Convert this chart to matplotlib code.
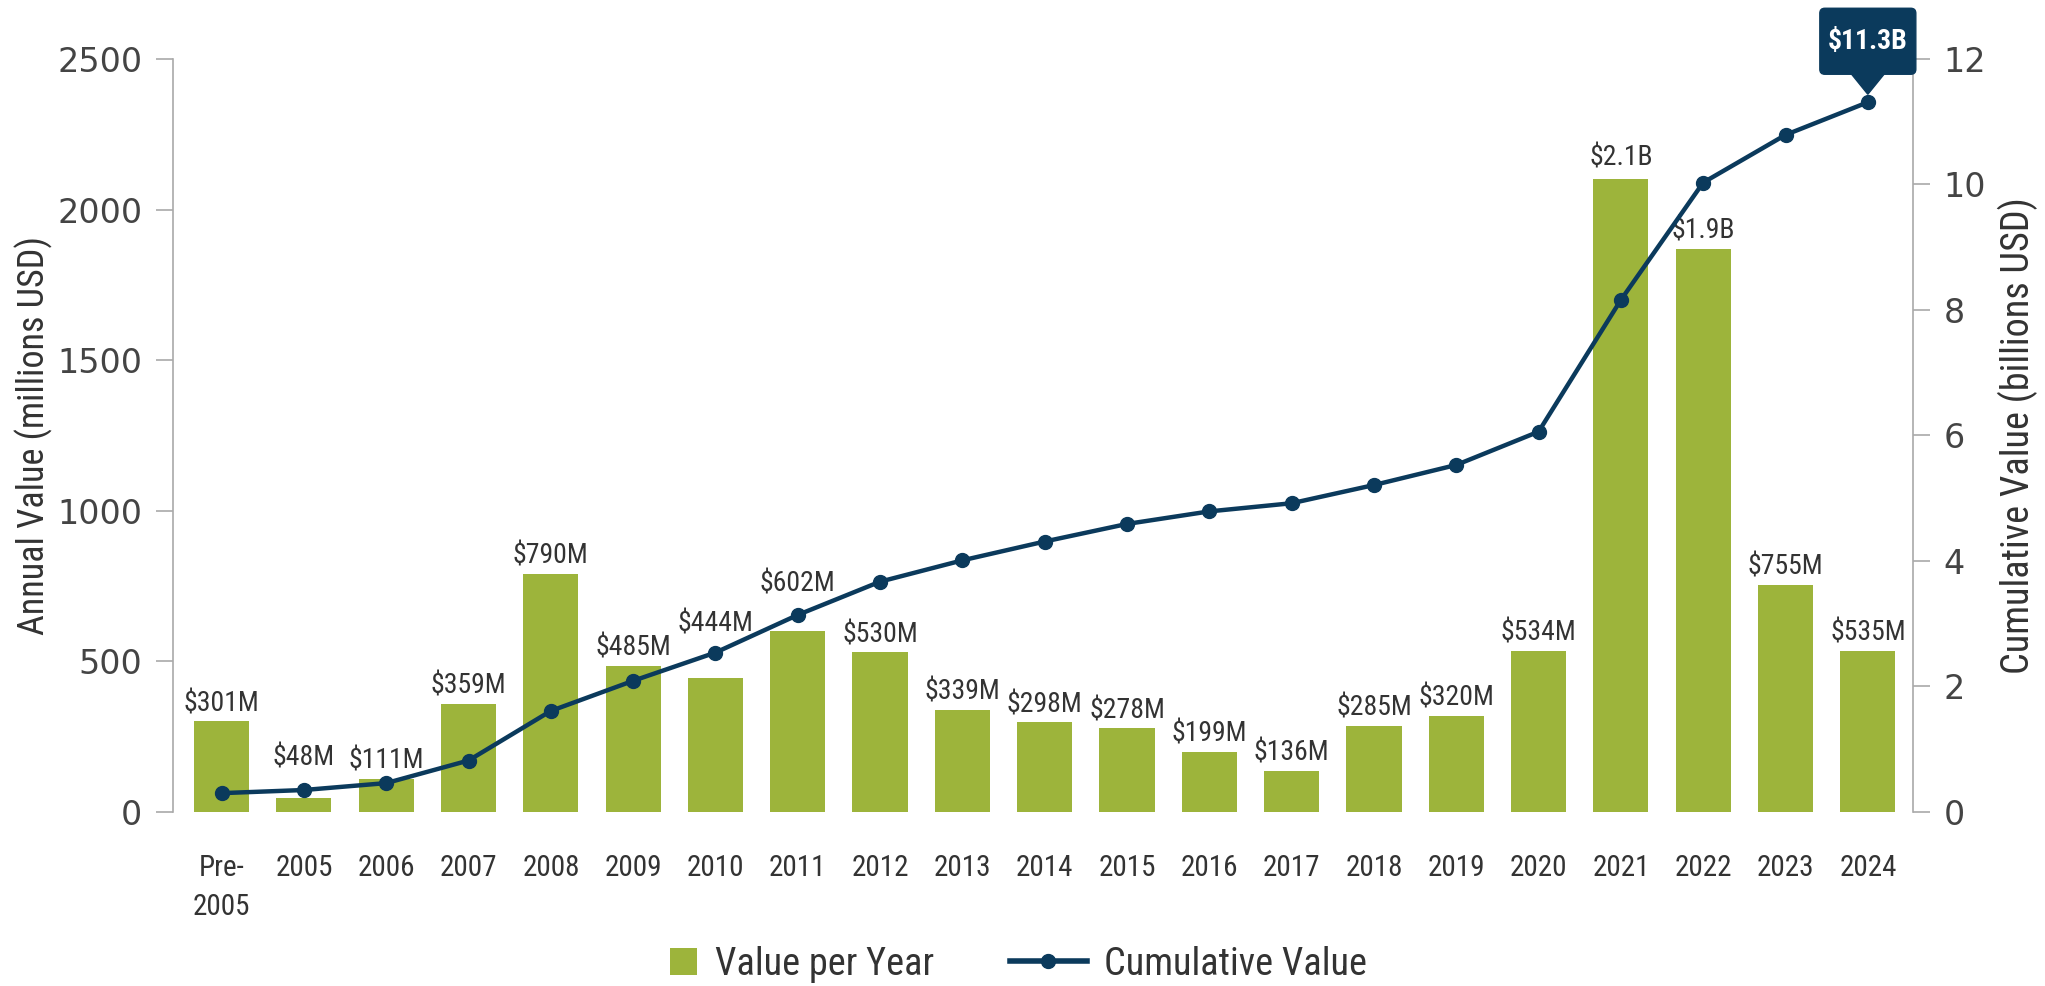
"""Annual and cumulative value chart, bars plus cumulative line on twin axis."""

import matplotlib

matplotlib.use("Agg")
import matplotlib.pyplot as plt
from matplotlib import font_manager
from matplotlib.legend_handler import HandlerPatch
from matplotlib.lines import Line2D
from matplotlib.patches import FancyBboxPatch, Patch, Polygon, Rectangle
from matplotlib.transforms import IdentityTransform

# ---- data -------------------------------------------------------------
years = ["Pre-\n2005", "2005", "2006", "2007", "2008", "2009", "2010", "2011",
         "2012", "2013", "2014", "2015", "2016", "2017", "2018", "2019",
         "2020", "2021", "2022", "2023", "2024"]
annual_musd = [301, 48, 111, 359, 790, 485, 444, 602, 530, 339, 298, 278,
               199, 136, 285, 320, 534, 2100, 1870, 755, 535]
annual_labels = ["$301M", "$48M", "$111M", "$359M", "$790M", "$485M", "$444M",
                 "$602M", "$530M", "$339M", "$298M", "$278M", "$199M",
                 "$136M", "$285M", "$320M", "$534M", "$2.1B", "$1.9B",
                 "$755M", "$535M"]
cumulative_busd = [0.30, 0.35, 0.46, 0.82, 1.61, 2.09, 2.54, 3.14, 3.67,
                   4.01, 4.31, 4.59, 4.79, 4.92, 5.21, 5.53, 6.06, 8.16,
                   10.03, 10.79, 11.31]
total_label = "$11.3B"

# ---- style ------------------------------------------------------------
GREEN = "#9db43b"
NAVY = "#0b3a5c"
TEXT = "#333333"
SPINE = "#a9a9a9"


def _pick_narrow():
    """Find a condensed face if one is installed."""
    names = {f.name: f for f in font_manager.fontManager.ttflist}
    for cand in ("Roboto Condensed", "Liberation Sans Narrow",
                 "Open Sans Condensed", "Noto Sans Condensed"):
        if cand in names:
            return dict(family=cand)
    for f in font_manager.fontManager.ttflist:
        if f.name == "DejaVu Sans" and str(f.stretch) in ("condensed", "semi-condensed"):
            return dict(family="DejaVu Sans", stretch="condensed")
    return dict(family="Roboto")


def _square_handle(legend, orig_handle, xdescent, ydescent, width, height, fontsize):
    """Square legend swatch pinned to the right of the handle box."""
    side = height
    return Rectangle((-xdescent + width - side, -ydescent), side, side)


NARROW = _pick_narrow()
WIDE = dict(family="DejaVu Sans")

# extra lift (points) for labels that would collide with the line
label_lift = {1: 16, 6: 26, 7: 21, 17: 3}

fig = plt.figure(figsize=(20.45, 9.86), dpi=100)
ax = fig.add_axes([0.0846, 0.1765, 0.8509, 0.7637])
ax2 = ax.twinx()

x = list(range(len(years)))
ax.bar(x, annual_musd, width=0.67, color=GREEN, zorder=2)

for i, (val, lab) in enumerate(zip(annual_musd, annual_labels)):
    ax.annotate(lab, (i, val), xytext=(0, 3 + label_lift.get(i, 0)),
                textcoords="offset points", ha="center", va="bottom",
                fontsize=20, color=TEXT, **NARROW)

ax2.plot(x, cumulative_busd, color=NAVY, lw=3.2, marker="o", ms=10,
         zorder=3, solid_capstyle="round")

ax.set_xlim(-0.59, 20.55)
ax.set_ylim(0, 2500)
ax2.set_ylim(0, 12)
ax.set_yticks([0, 500, 1000, 1500, 2000, 2500])
ax2.set_yticks([0, 2, 4, 6, 8, 10, 12])
ax.set_xticks(x)
ax.set_xticklabels(years, fontsize=21, color=TEXT, linespacing=1.5,
                   **NARROW)
ax.tick_params(axis="x", length=0, pad=30)
for a in (ax, ax2):
    a.tick_params(axis="y", length=12, width=1.2, color=SPINE,
                  labelsize=24, labelcolor="#444444", pad=10)
    for t in a.get_yticklabels():
        t.set_family(WIDE["family"])
    for side in ("top", "bottom", "left", "right"):
        a.spines[side].set_visible(False)
ax.spines["left"].set_visible(True)
ax.spines["left"].set_color(SPINE)
ax.spines["left"].set_linewidth(1.2)
ax2.spines["right"].set_visible(True)
ax2.spines["right"].set_color(SPINE)
ax2.spines["right"].set_linewidth(1.2)

ax.set_ylabel("Annual Value (millions USD)", fontsize=26, color=TEXT,
              labelpad=3, **NARROW)
ax2.set_ylabel("Cumulative Value (billions USD)", fontsize=27.5, color=TEXT,
               labelpad=8, **NARROW)

# callout over the final cumulative point
px, py = ax2.transData.transform((x[-1], cumulative_busd[-1]))
tip_y = py + 8
base_y = py + 28
box_w, box_h = 96, 66
tri = Polygon([(px - 17, base_y + 1), (px + 17, base_y + 1), (px, tip_y)],
              closed=True, transform=IdentityTransform(), color=NAVY,
              clip_on=False, zorder=5)
box = FancyBboxPatch((px - box_w / 2, base_y), box_w, box_h,
                     boxstyle="round,pad=0,rounding_size=5",
                     transform=IdentityTransform(), color=NAVY,
                     clip_on=False, zorder=5)
fig.patches.extend([tri, box])
fig.text(px / fig.bbox.width, (base_y + box_h / 2) / fig.bbox.height,
         total_label, ha="center", va="center", color="white",
         fontsize=20, fontweight="bold", zorder=6, **NARROW)

handles = [
    Patch(facecolor=GREEN, edgecolor="none"),
    Line2D([], [], color=NAVY, lw=4, marker="o", ms=10),
]
fig.legend(handles, ["Value per Year", "Cumulative Value"],
           loc="center", bbox_to_anchor=(0.486, 0.022), ncol=2,
           frameon=False, labelcolor=TEXT,
           prop=font_manager.FontProperties(size=27.5, **NARROW),
           handlelength=2.0, handleheight=0.72, columnspacing=2.0,
           handletextpad=0.45,
           handler_map={Patch: HandlerPatch(patch_func=_square_handle)})

fig.savefig("out.png", dpi=100)
plt.close(fig)
